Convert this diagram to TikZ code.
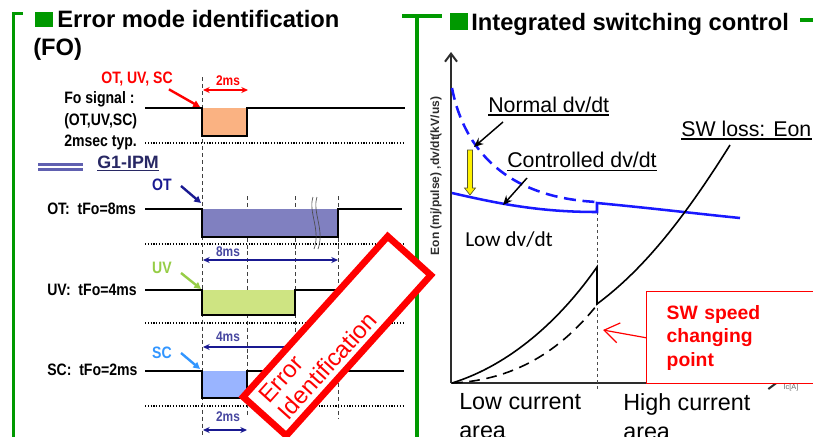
\documentclass[tikz,border=0pt]{standalone}
\usepackage{fontspec}
\setmainfont{Liberation Sans}
\newfontfamily\narrowbf{Liberation Sans Bold}[FakeStretch=0.85]
\newfontfamily\calibrifont{Carlito}
\usetikzlibrary{arrows.meta}

\definecolor{frameGreen}{RGB}{0,153,0}
\definecolor{foOrange}{RGB}{250,178,130}
\definecolor{otFill}{RGB}{128,128,192}
\definecolor{uvFill}{RGB}{206,228,130}
\definecolor{scFill}{RGB}{153,180,255}
\definecolor{otBlue}{RGB}{25,25,145}
\definecolor{uvGreen}{RGB}{150,205,70}
\definecolor{scBlue}{RGB}{50,150,255}
\definecolor{msBlue}{RGB}{70,70,160}
\definecolor{legendBlue}{RGB}{96,96,176}
\definecolor{ipmNavy}{RGB}{40,40,100}
\definecolor{curveBlue}{RGB}{25,25,255}
\definecolor{axisGray}{RGB}{45,45,45}

\tikzset{
  frame/.style={draw=frameGreen, line width=2.6pt},
  sig/.style={line width=1.7pt, line join=miter},
  guide/.style={line width=0.6pt, black!75, dash pattern=on 3pt off 2.2pt},
  dots/.style={line width=1.5pt, dash pattern=on 0.9pt off 1.2pt},
  span/.style={line width=1.1pt, {Stealth[length=5pt,width=4.5pt]}-{Stealth[length=5pt,width=4.5pt]}},
  tag/.style={line width=1.8pt, -{Triangle[length=5pt,width=5pt]}},
  tlabel/.style={inner sep=0pt, font=\narrowbf\fontsize{12.4}{16}\selectfont},
  mlabel/.style={inner sep=0pt, font=\narrowbf\fontsize{10.5}{12}\selectfont},
  title/.style={inner sep=0pt, font=\bfseries\fontsize{17.8}{21}\selectfont},
  plotlabel/.style={inner sep=0pt, font=\fontsize{16}{19}\selectfont},
  arealabel/.style={inner sep=0pt, align=left, font=\fontsize{17.5}{21.75}\selectfont},
  callout/.style={line width=1.1pt, -{Stealth[length=7pt,width=6pt]}},
  uline/.style={line width=1.2pt},
}

\begin{document}
\begin{tikzpicture}[x=0.75pt,y=-0.75pt]
\useasboundingbox (0,0) rectangle (813,436);
\fill[white] (0,0) rectangle (813,436);

% ---------- green panel brackets ----------
\draw[frame] (22.5,13.5) -- (13.5,13.5) -- (13.5,440);
\draw[frame] (402,16) -- (442,16);
\draw[frame] (417,16) -- (417,440);
\draw[frame] (800,20) -- (816,20);

% ---------- titles ----------
\fill[frameGreen] (35,12) rectangle (52.5,27);
\node[title, anchor=base west] (t-left) at (57,27) {Error mode identification};
\node[title, anchor=base west] (t-fo) at (33,55) {(FO)};
\fill[frameGreen] (450,13) rectangle (468,30);
\node[title, anchor=base west] (t-right) at (471,30) {Integrated switching control};

% ---------- FO timing chart ----------
% common time guides
\draw[guide] (202,77) -- (202,436);
\draw[guide] (247,196) -- (247,415);
\draw[guide] (295,196) -- (295,415);
\draw[guide] (338,196) -- (338,418);

% Fo signal
\node[tlabel, anchor=west, align=left] (fo-lbl) at (64,121) {Fo signal :\\(OT,UV,SC)\\2msec typ.};
\fill[foOrange] (202,108) rectangle (247,136);
\draw[sig] (145,108) -- (202,108) -- (202,136) -- (247,136) -- (247,108) -- (405,108);
\draw[dots] (145,143) -- (404,143);
\node[tlabel, text=red] (fo-err) at (137,79) {OT, UV, SC};
\coordinate (fo-fall) at (200,107);
\draw[tag, red] ([shift={(-4,3)}]fo-err.south east) -- (fo-fall);
\node[mlabel, text=red] (fo-2ms) at (228,81) {2ms};
\coordinate (fo-s0) at (203,90);
\coordinate (fo-s1) at (248,90);
\draw[span, red] (fo-s0) -- (fo-s1);

% legend
\draw[legendBlue, line width=1.8pt] (38,164.5) -- (83,164.5);
\draw[legendBlue, line width=1.8pt] (38,169.5) -- (83,169.5);
\node[inner sep=0pt, font=\bfseries\fontsize{13.4}{15}\selectfont, text=ipmNavy, anchor=base west] (ipm) at (97,168) {G1-IPM};
\draw[ipmNavy, line width=1pt] ([yshift=-2pt]ipm.base west) -- ([yshift=-2pt]ipm.base east);

% OT
\node[tlabel, anchor=west] (ot-lbl) at (47,209) {OT:\ \ tFo=8ms};
\fill[otFill] (202,209) rectangle (338,237);
\draw[sig] (145,209) -- (202,209) -- (202,237) -- (338,237) -- (338,209) -- (402,209);
\draw[dots] (145,244) -- (404,244);
\draw[black!70, line width=0.5pt] (313,197) .. controls (308,212) and (321,230) .. (314,249);
\draw[black!70, line width=0.5pt] (317,197) .. controls (312,212) and (325,230) .. (318,249);
\node[tlabel, text=otBlue] (ot-tag) at (162,185) {OT};
\coordinate (ot-fall) at (201,203);
\draw[tag, otBlue] ([shift={(9,1)}]ot-tag.east) -- (ot-fall);
\node[mlabel, text=msBlue] (ot-8ms) at (228,252) {8ms};
\coordinate (ot-s0) at (203,260);
\coordinate (ot-s1) at (338,260);
\draw[span, otBlue] (ot-s0) -- (ot-s1);

% UV
\node[tlabel, anchor=west] (uv-lbl) at (47,290) {UV:\ \ tFo=4ms};
\fill[uvFill] (202,290) rectangle (295,315);
\draw[sig] (145,290) -- (202,290) -- (202,315) -- (295,315) -- (295,290) -- (404,290);
\draw[dots] (145,323) -- (404,323);
\node[tlabel, text=uvGreen] (uv-tag) at (162,268) {UV};
\coordinate (uv-fall) at (201,289);
\draw[tag, uvGreen] ([shift={(9,5)}]uv-tag.east) -- (uv-fall);
\node[mlabel, text=msBlue] (uv-4ms) at (228,337) {4ms};
\coordinate (uv-s0) at (203,347);
\coordinate (uv-s1) at (295,347);
\draw[span, otBlue] (uv-s0) -- (uv-s1);

% SC
\node[tlabel, anchor=west] (sc-lbl) at (47,370) {SC:\ \ tFo=2ms};
\fill[scFill] (202,371) rectangle (247,398);
\draw[sig] (145,371) -- (202,371) -- (202,398) -- (247,398) -- (247,371) -- (404,371);
\draw[dots] (145,406) -- (404,406);
\node[tlabel, text=scBlue] (sc-tag) at (162,353) {SC};
\coordinate (sc-fall) at (200,369);
\draw[tag, scBlue] ([shift={(9,0)}]sc-tag.east) -- (sc-fall);
\node[mlabel, text=msBlue] (sc-2ms) at (228,417) {2ms};
\coordinate (sc-s0) at (203,430);
\coordinate (sc-s1) at (247,430);
\draw[span, otBlue] (sc-s0) -- (sc-s1);

% error identification stamp
\node[draw=red, fill=white, line width=5pt, rotate=48, minimum height=43.5pt,
      text width=144pt, inner xsep=9pt, align=left, text=red,
      font=\fontsize{18}{19.5}\selectfont] (stamp) at (337,336) {Error\\Identification};

% ---------- switching control plot ----------
\node[inner sep=0pt, rotate=90, text=axisGray, font=\bfseries\fontsize{9}{10}\selectfont] (y-lbl) at (436,176) {Eon (mj/pulse) ,dv/dt(kV/us)};
\coordinate (origin) at (451,383);
\coordinate (y-top) at (451,52);
\coordinate (x-end) at (778,383);
\draw[axisGray, line width=1.5pt, -{Straight Barb[length=6pt,width=9pt]}] (origin) -- (y-top);
\draw[axisGray, line width=1.5pt, -{Straight Barb[length=6pt,width=9pt]}] (origin) -- (x-end);

% speed change guide
\draw[black!70, line width=0.5pt, dash pattern=on 2.5pt off 2pt] (597,212) -- (597,389);

% dv/dt curves
\draw[curveBlue, line width=1.9pt, dash pattern=on 9pt off 5pt] (452,88) .. controls (462,140) and (497,197) .. (597,202);
\draw[curveBlue, line width=1.9pt] (452,193) .. controls (500,204) and (540,212) .. (597,212) -- (597,203) .. controls (650,208) and (700,214) .. (740,218);

% Eon curves
\draw[black, line width=1.2pt] (452,383) .. controls (510,365) and (560,320) .. (597,267) -- (597,304) .. controls (640,272) and (680,225) .. (730,145);
\draw[black, line width=1.2pt, dash pattern=on 8pt off 5pt] (452,383) .. controls (520,380) and (565,345) .. (597,305);

% yellow reduction arrow
\draw[fill=yellow, draw=black!50!olive, line width=0.5pt] (467.5,150) -- (472.5,150) -- (472.5,188) -- (475.5,188) -- (470,195) -- (464.5,188) -- (467.5,188) -- cycle;

% labels
\node[plotlabel, anchor=base west] (nrm) at (488,112) {Normal dv/dt};
\draw[uline] ([yshift=-2.3pt]nrm.base west) -- ([yshift=-2.3pt]nrm.base east);
\coordinate (nrm-tip) at (474,147);
\draw[callout] ([shift={(15,10)}]nrm.base west) -- (nrm-tip);

\node[plotlabel, anchor=base west] (ctl) at (507,167) {Controlled dv/dt};
\draw[uline] ([yshift=-2.6pt]ctl.base west) -- ([yshift=-2.6pt]ctl.base east);
\coordinate (ctl-tip) at (503,205);
\draw[callout] ([shift={(20,11)}]ctl.base west) -- (ctl-tip);

\node[plotlabel, anchor=base west] (swl) at (681,136) {SW loss: Eon};
\draw[uline] ([yshift=-2.3pt]swl.base west) -- ([yshift=-2.3pt]swl.base east);

\node[inner sep=0pt, anchor=base west, font=\calibrifont\fontsize{16}{19}\selectfont] (low-dv) at (465,246) {Low dv/dt};

\node[arealabel, anchor=north west] (low-area) at (459,393) {Low current\\area};
\node[arealabel, anchor=north west] (high-area) at (623,393) {High current\\area};

% speed changing point callout
\node[draw=red, fill=white, line width=1.1pt, anchor=north west, minimum height=69pt,
      text width=112pt, inner xsep=15pt, align=left, text=red,
      font=\bfseries\fontsize{14.5}{17.6}\selectfont] (spd) at (646,291) {SW speed\\changing\\point};
\node[inner sep=0pt, text=black!60, font=\fontsize{5.5}{6}\selectfont] (x-lbl) at (791,388) {Ic[A]};
\coordinate (spd-tip) at (603,330);
\draw[red, line width=0.9pt, -{Straight Barb[length=11pt,width=15pt]}] (spd.west) -- (spd-tip);

\end{tikzpicture}
\end{document}
